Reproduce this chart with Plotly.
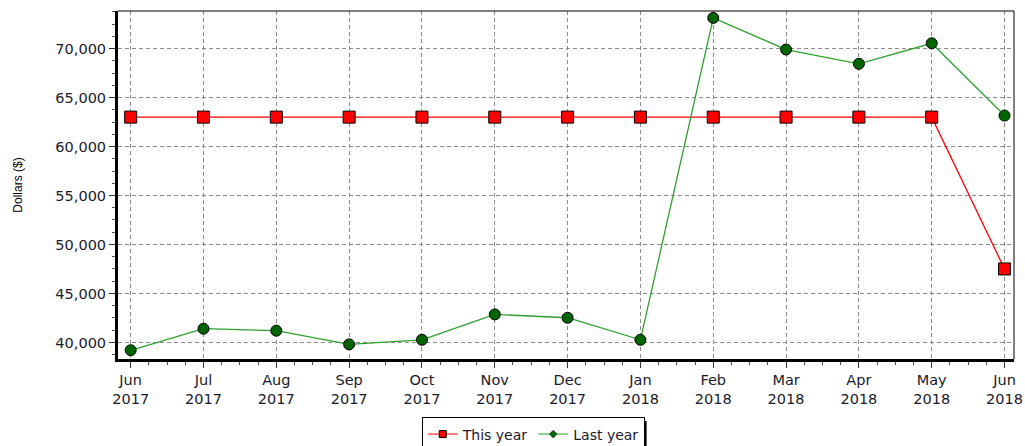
import plotly.graph_objects as go

months = ["Jun<br>2017", "Jul<br>2017", "Aug<br>2017", "Sep<br>2017", "Oct<br>2017", "Nov<br>2017",
          "Dec<br>2017", "Jan<br>2018", "Feb<br>2018", "Mar<br>2018", "Apr<br>2018", "May<br>2018", "Jun<br>2018"]
this_year = [63000, 63000, 63000, 63000, 63000, 63000, 63000, 63000, 63000, 63000, 63000, 63000, 47500]
last_year = [39200, 41400, 41200, 39800, 40270, 42860, 42520, 40270, 73130, 69900, 68440, 70540, 63160]

xpos = list(range(len(months)))
font = "DejaVu Sans"
tc = "#1a1a2a"
red, red_line = "#ff0000", "#ff0000"
green, green_line = "#006400", "#2ea02e"

fig = go.Figure()
fig.add_trace(go.Scatter(
    x=xpos, y=this_year, name="This year", mode="lines+markers", showlegend=False,
    line=dict(color=red_line, width=1.3),
    marker=dict(symbol="square", size=12, color=red, line=dict(color="#000000", width=1)),
))
fig.add_trace(go.Scatter(
    x=xpos, y=last_year, name="Last year", mode="lines+markers", showlegend=False,
    line=dict(color=green_line, width=1.3),
    marker=dict(symbol="circle", size=11, color=green, line=dict(color="#000000", width=1)),
))
# legend entries with small symbols, as in the reference
fig.add_trace(go.Scatter(
    x=[None], y=[None], name="This year", mode="lines+markers",
    line=dict(color=red_line, width=1),
    marker=dict(symbol="square", size=7, color=red, line=dict(color="#000000", width=1)),
))
fig.add_trace(go.Scatter(
    x=[None], y=[None], name="Last year", mode="lines+markers",
    line=dict(color=green_line, width=1),
    marker=dict(symbol="diamond", size=6, color=green, line=dict(color="#000000", width=0.5)),
))

grid = dict(showgrid=True, gridcolor="#8c8c8c", gridwidth=1, griddash="4px,3px")

fig.update_xaxes(
    range=[-0.174, 12.13], tickvals=xpos, ticktext=months, zeroline=False, automargin=False,
    showline=True, linecolor="#000000", linewidth=3,
    ticks="outside", ticklen=6, tickcolor="#333", tickwidth=1,
    tickfont=dict(family=font, size=14.5, color=tc),
    minor=dict(dtick=0.25, tick0=0, ticks="outside", ticklen=3, tickcolor="#555", showgrid=False),
    **grid,
)
fig.update_yaxes(
    range=[38308, 73833], dtick=5000, tick0=0, tickformat=",d", zeroline=False, automargin=False,
    showline=True, linecolor="#000000", linewidth=3,
    ticks="outside", ticklen=6, tickcolor="#333", tickwidth=1,
    tickfont=dict(family=font, size=14.5, color=tc),
    minor=dict(dtick=1250, tick0=0, ticks="outside", ticklen=3, tickcolor="#555", showgrid=False),
    title=dict(text="Dollars ($)", font=dict(family="Liberation Sans", size=12, color="#000"), standoff=31),
    **grid,
)

# top and right thin frame lines
fig.add_shape(type="line", xref="paper", yref="paper", x0=0, x1=1, y0=1, y1=1,
              line=dict(color="#000", width=1))
fig.add_shape(type="line", xref="paper", yref="paper", x0=1, x1=1, y0=0, y1=1,
              line=dict(color="#000", width=1))
# legend drop shadow
fig.add_shape(type="rect", xref="paper", yref="paper", x0=0.344, x1=0.59, y0=-0.178, y1=-0.30,
              fillcolor="#000", line=dict(width=0), layer="above")

fig.update_layout(
    width=1025, height=446,
    margin=dict(l=118, r=11, t=11, b=87, autoexpand=False),
    plot_bgcolor="#ffffff", paper_bgcolor="#ffffff",
    showlegend=True,
    legend=dict(orientation="h", x=0.339, xanchor="left", y=-0.168, yanchor="top",
                bgcolor="#ffffff", bordercolor="#000000", borderwidth=1,
                font=dict(family=font, size=14, color=tc), itemwidth=30,
                tracegroupgap=0),
)

fig.write_html("out.html", config={"displayModeBar": False},
               post_script="document.body.style.margin='0';")
